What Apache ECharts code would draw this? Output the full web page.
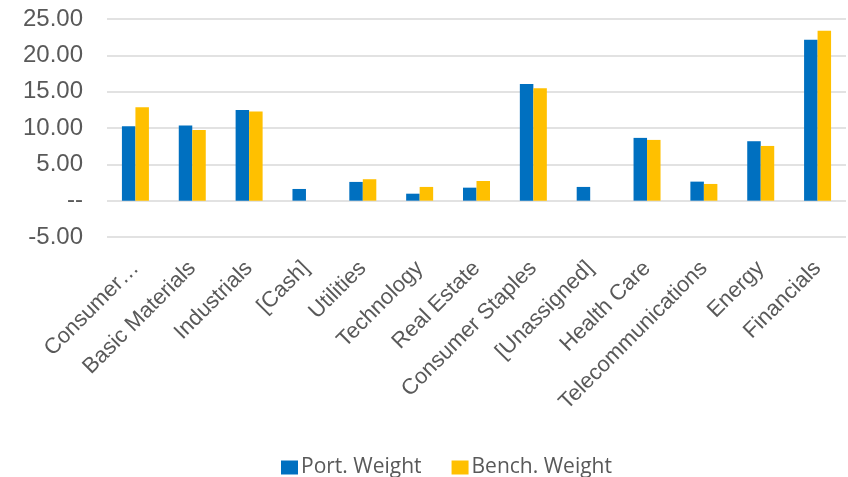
<!DOCTYPE html>
<html>
<head>
<meta charset="utf-8">
<script src="https://cdn.jsdelivr.net/npm/echarts@6/dist/echarts.min.js"></script>
<style>
  html, body { margin: 0; padding: 0; background: #fff; }
  #chart { width: 848px; height: 477px; }
</style>
</head>
<body>
<div id="chart"></div>
<script>
const sectors = [
  'Consumer Discretionary', 'Basic Materials', 'Industrials', '[Cash]', 'Utilities',
  'Technology', 'Real Estate', 'Consumer Staples', '[Unassigned]', 'Health Care',
  'Telecommunications', 'Energy', 'Financials'
];
const portWeight = [10.25, 10.33, 12.49, 1.61, 2.58, 0.96, 1.79, 16.07, 1.89, 8.64, 2.62, 8.18, 22.13];
const benchWeight = [12.86, 9.74, 12.26, 0, 2.95, 1.89, 2.71, 15.48, 0, 8.36, 2.30, 7.53, 23.37];

const chart = echarts.init(document.getElementById('chart'));

const labelColor = '#595959';
const gridColor = '#d9d9d9';

chart.setOption({
  animation: false,
  grid: { left: 107, right: 2, top: 19, bottom: 240 },
  legend: {
    bottom: -6,
    left: 276,
    itemWidth: 17,
    itemHeight: 14,
    itemGap: 30,
    icon: 'rect',
    textStyle: { fontFamily: 'Open Sans', fontSize: 21, color: labelColor, padding: [0, 0, 0, -2] },
    data: ['Port. Weight', 'Bench. Weight']
  },
  xAxis: {
    type: 'category',
    data: sectors,
    axisLine: { show: false, onZero: false },
    axisTick: { show: false },
    axisLabel: {
      rotate: 45,
      interval: 0,
      margin: 28,
      fontFamily: 'Liberation Sans',
      fontSize: 22,
      color: labelColor,
      formatter: (v) => v === 'Consumer Discretionary' ? 'Consumer…' : v
    }
  },
  yAxis: {
    type: 'value',
    min: -5,
    max: 25,
    interval: 5,
    axisLine: { show: false },
    axisTick: { show: false },
    splitLine: { lineStyle: { color: gridColor, width: 1.5 } },
    axisLabel: {
      margin: 24,
      fontFamily: 'Liberation Sans',
      fontSize: 24,
      color: labelColor,
      formatter: (v) => v === 0 ? '--' : v.toFixed(2)
    }
  },
  series: [
    {
      name: 'Port. Weight',
      type: 'bar',
      data: portWeight,
      barWidth: 13.5,
      barGap: '0%',
      itemStyle: { color: '#0070c0' }
    },
    {
      name: 'Bench. Weight',
      type: 'bar',
      data: benchWeight,
      barWidth: 13.5,
      barGap: '0%',
      itemStyle: { color: '#ffc000' }
    }
  ]
});
</script>
</body>
</html>
